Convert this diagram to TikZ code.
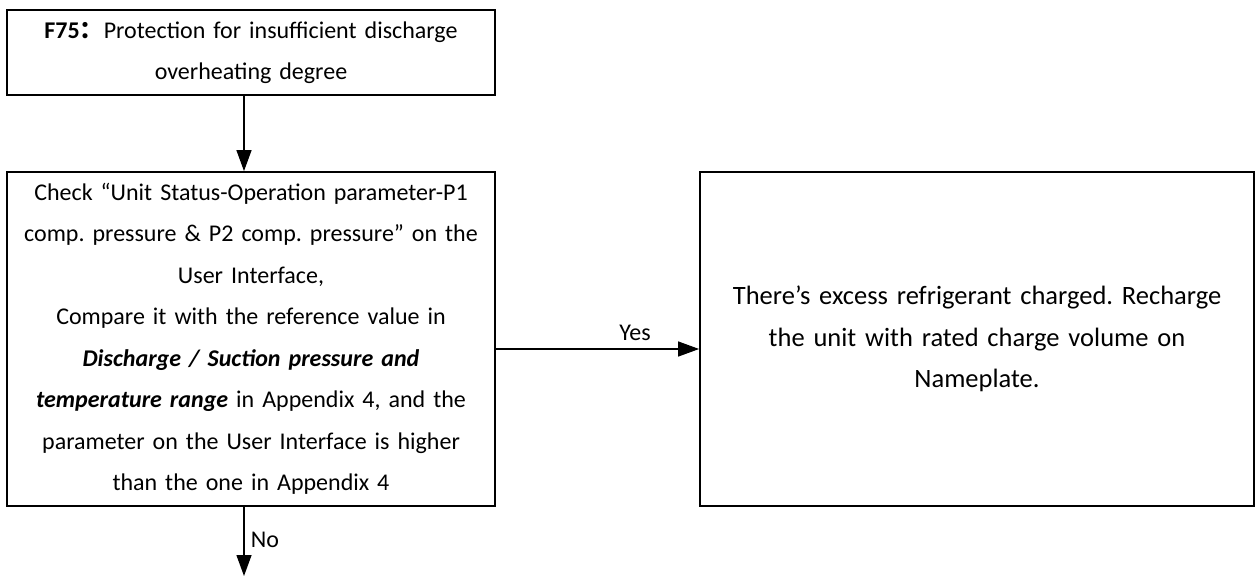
\documentclass[tikz,border=0pt]{standalone}
\usepackage{fontspec}
\setmainfont{Carlito}
\newfontfamily\cjk{Noto Sans CJK SC}
\usetikzlibrary{arrows.meta}
\frenchspacing
\begin{document}
\begin{tikzpicture}[x=1pt,y=-1pt,
  box/.style={draw, line width=1.8pt, rectangle, inner sep=0pt, align=center,
    font=\fontsize{24}{41.5}\selectfont},
  arr/.style={line width=1.3pt, -{Triangle[length=21pt,width=15pt]}},
  lbl/.style={font=\fontsize{24}{28}\selectfont, inner sep=0pt}]
\useasboundingbox (0,0) rectangle (1255,576);
\node[box, text width=488pt, minimum height=85pt] (top) at (251,52.5)
  {\textbf{F75}{\cjk\bfseries ：}Protection for insufficient discharge\\overheating degree};
\node[box, text width=488pt, minimum height=334pt] (main) at (251,339)
  {Check “Unit Status-Operation parameter-P1\\
   comp. pressure \& P2 comp. pressure” on the\\
   User Interface,\\
   Compare it with the reference value in\\
   \textbf{\textit{Discharge / Suction pressure and}}\\
   \textbf{\textit{temperature range}} in Appendix 4, and the\\
   parameter on the User Interface is higher\\
   than the one in Appendix 4};
\node[box, text width=554pt, minimum height=334pt,
  font=\fontsize{26.5}{41.5}\selectfont] (right) at (977,339)
  {There’s excess refrigerant charged. Recharge\\
   the unit with rated charge volume on\\
   Nameplate.};
\coordinate (end) at (244,576);
\draw[arr] ([xshift=-7pt]top.south) -- ([xshift=-7pt]main.north);
\draw[arr] ([yshift=-10pt]main.east) -- ([yshift=-10pt]right.west);
\draw[arr] ([xshift=-7pt]main.south) -- (end);
\node[lbl] (yes) at (635,333) {Yes};
\node[lbl] (no) at (265,540) {No};
\end{tikzpicture}
\end{document}
